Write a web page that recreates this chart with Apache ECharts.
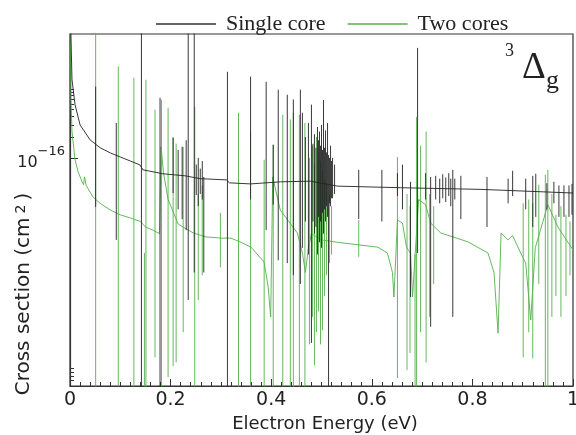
<!DOCTYPE html>
<html>
<head>
<meta charset="utf-8">
<script src="https://cdn.jsdelivr.net/npm/echarts@6/dist/echarts.min.js"></script>
<style>html,body{margin:0;padding:0;background:#fff}#c{width:576px;height:435px}</style>
</head>
<body>
<div id="c"></div>
<script>
// ---- data ----
const seriesNames = ['Single core', 'Two cores'];
const xTickLabels = ['0', '0.2', '0.4', '0.6', '0.8', '1'];
const yMajorTicks = [1e-16];
const yMinorTicks = [5e-20, 6e-20, 7e-20, 8e-20, 9e-20, 2e-16, 3e-16, 4e-16, 5e-16, 6e-16, 7e-16, 8e-16, 9e-16, 1e-15];

// smooth background of the single-core cross section [energy, value]
const blackCurve = [
 [0.001, 1e-14], [0.004, 1.35e-15], [0.010, 5.9e-16], [0.020, 3.0e-16], [0.040, 1.82e-16],
 [0.060, 1.4e-16], [0.080, 1.18e-16], [0.100, 1.03e-16], [0.120, 9.0e-17], [0.139, 7.9e-17],
 [0.145, 6.7e-17], [0.175, 6.1e-17], [0.183, 5.9e-17], [0.229, 5.5e-17], [0.259, 5.0e-17],
 [0.311, 4.8e-17], [0.317, 4.35e-17], [0.359, 4.2e-17], [0.418, 4.5e-17], [0.478, 4.6e-17],
 [0.532, 3.9e-17], [0.657, 3.7e-17], [0.817, 3.5e-17], [1.0, 3.1e-17]
];
// resonance spikes of the single-core curve [energy, low, high]
const blackSpikes = [
 [0.051, 1.95e-17, 1.07e-15], [0.092, 6.5e-18, 3.2e-16], [0.142, 1e-20, 1e-14], [0.179, 1e-20, 7.4e-16],
 [0.205, 3.1e-17, 1.95e-16], [0.215, 1.8e-17, 1.3e-16], [0.223, 1.3e-17, 1.45e-16], [0.231, 9e-18, 1.8e-16],
 [0.235, 8.8e-19, 1e-14], [0.247, 2.2e-18, 1e-14], [0.251, 2.9e-17, 8.0e-17], [0.255, 2.0e-17, 1.0e-16],
 [0.259, 3.0e-17, 7.0e-17], [0.263, 2.5e-17, 9.0e-17], [0.266, 2.2e-18, 5.3e-17], [0.313, 1e-20, 1.76e-15],
 [0.359, 2.5e-17, 1.5e-15], [0.390, 9e-18, 1.26e-15], [0.404, 2.1e-17, 1.55e-16], [0.414, 3.3e-18, 9.7e-16],
 [0.432, 3.0e-18, 8.2e-16], [0.444, 2.0e-18, 7.0e-16], [0.458, 1.5e-18, 9.7e-16], [0.462, 5.0e-18, 4.5e-16],
 [0.468, 1.2e-17, 2.0e-16], [0.474, 4.0e-18, 3.2e-16], [0.480, 2.1e-19, 5.9e-16], [0.483, 1.2e-17, 1.6e-16],
 [0.486, 8e-18, 2.2e-16], [0.489, 1.0e-17, 1.4e-16], [0.492, 4.0e-18, 2.8e-16], [0.494, 1.4e-17, 1.8e-16],
 [0.496, 6.0e-18, 2.4e-16], [0.498, 1.2e-17, 1.5e-16], [0.500, 5.0e-18, 3.0e-16], [0.502, 1.6e-17, 1.3e-16],
 [0.504, 8.0e-18, 6.9e-16], [0.506, 1.8e-17, 1.4e-16], [0.508, 1.2e-17, 2.5e-16], [0.510, 2.0e-17, 1.2e-16],
 [0.512, 1.4e-17, 3.2e-16], [0.514, 1e-20, 1.1e-16], [0.516, 2.2e-17, 1.0e-16], [0.518, 2.0e-17, 1.5e-16],
 [0.520, 2.6e-17, 9e-17], [0.522, 2.6e-17, 1.0e-16], [0.526, 3.0e-17, 8.0e-17], [0.574, 1.3e-17, 6.7e-17],
 [0.620, 1.2e-17, 6.7e-17], [0.651, 2.8e-17, 6.0e-17], [0.661, 1.8e-17, 8.0e-17], [0.677, 9.7e-19, 4.5e-17],
 [0.691, 4.2e-18, 3.9e-15], [0.707, 2.5e-17, 6.0e-17], [0.717, 3.6e-19, 5.3e-17], [0.727, 2.5e-17, 5.5e-17],
 [0.735, 2.2e-17, 5.0e-17], [0.741, 2.6e-17, 5.8e-17], [0.747, 2.3e-17, 5.2e-17], [0.753, 2.8e-17, 6.0e-17],
 [0.757, 2.0e-17, 5.0e-17], [0.761, 5.0e-19, 6.7e-17], [0.765, 2.5e-17, 5.0e-17], [0.777, 1.3e-17, 5.5e-17],
 [0.829, 1.0e-17, 5.3e-17], [0.871, 2.2e-17, 5.0e-17], [0.880, 2.8e-17, 6.5e-17], [0.906, 1.8e-17, 5.0e-17],
 [0.920, 1.0e-17, 5.5e-17], [0.926, 1.4e-17, 5.9e-17], [0.948, 1.8e-17, 4.3e-17], [0.962, 2.2e-17, 4.5e-17],
 [0.972, 1.4e-17, 4.0e-17], [0.982, 1.4e-17, 4.0e-17], [0.992, 1.4e-17, 4.0e-17], [0.998, 1.5e-17, 4.2e-17]
];

// smooth background of the two-core cross section [energy, value]
const greenCurve = [
 [0.0005, 1e-14], [0.002, 6.9e-16], [0.004, 2.4e-16], [0.010, 9.4e-17], [0.016, 6.3e-17], [0.024, 4.5e-17],
 [0.027, 4.1e-17], [0.029, 5.3e-17], [0.032, 4.0e-17], [0.046, 2.7e-17], [0.060, 2.2e-17], [0.080, 1.76e-17],
 [0.100, 1.5e-17], [0.120, 1.35e-17], [0.140, 1.2e-17], [0.150, 1.0e-17], [0.165, 9.0e-18], [0.178, 8.0e-18],
 [0.181, 1.44e-16], [0.186, 6.0e-17], [0.195, 2.5e-17], [0.215, 1.1e-17], [0.245, 8.2e-18], [0.270, 7.2e-18],
 [0.300, 6.9e-18], [0.320, 6.9e-18], [0.340, 6.0e-18], [0.360, 5.1e-18], [0.386, 3.1e-18], [0.394, 1.35e-18],
 [0.399, 5.0e-19], [0.403, 5.3e-17], [0.418, 1.76e-17], [0.452, 8.2e-18], [0.462, 4.2e-18], [0.468, 2.2e-18],
 [0.474, 5.0e-18], [0.480, 8.0e-18], [0.500, 6.5e-18], [0.532, 6.0e-18], [0.612, 5.1e-18], [0.631, 4.2e-18],
 [0.641, 2.2e-18], [0.644, 9.7e-19], [0.651, 1.26e-17], [0.661, 1.14e-17], [0.669, 5.1e-18], [0.677, 4.2e-18],
 [0.681, 9.7e-19], [0.693, 2.5e-17], [0.707, 2.1e-17], [0.717, 1.14e-17], [0.737, 8.2e-18], [0.791, 6.1e-18],
 [0.831, 4.2e-18], [0.843, 2.2e-18], [0.851, 2.9e-19], [0.857, 8.2e-18], [0.871, 6.5e-18], [0.880, 7.5e-18],
 [0.896, 4.2e-18], [0.906, 3.0e-18], [0.916, 4.5e-19], [0.925, 5.0e-18], [0.950, 2.1e-17], [0.970, 1.0e-17],
 [1.0, 4.65e-18]
];
// resonance spikes of the two-core curve [energy, low, high]
const greenSpikes = [
 [0.051, 1e-20, 1e-14], [0.096, 1e-20, 2.1e-15], [0.127, 1e-20, 1.44e-15], [0.148, 1e-20, 4.2e-18],
 [0.151, 1e-20, 1.35e-15], [0.169, 1.3e-19, 5.0e-16], [0.182, 1e-20, 6.9e-16], [0.195, 6.7e-20, 5.3e-16],
 [0.205, 9.7e-20, 2.0e-16], [0.211, 1.1e-19, 1.6e-16], [0.225, 3.0e-19, 1.44e-16], [0.248, 1e-20, 5.5e-16],
 [0.255, 8.8e-19, 3.0e-17], [0.263, 2.0e-18, 4.0e-17], [0.299, 2.6e-18, 1.6e-17], [0.335, 1e-20, 4.5e-16],
 [0.359, 1e-20, 2.4e-16], [0.386, 1e-20, 9.4e-17], [0.404, 1e-20, 1.55e-16], [0.423, 1e-20, 4.2e-16],
 [0.438, 1e-20, 3.6e-16], [0.444, 1e-20, 4.5e-16], [0.456, 1e-20, 4.2e-16], [0.467, 1e-20, 3.2e-16],
 [0.476, 2.0e-19, 1.0e-16], [0.482, 5.0e-19, 1.5e-16], [0.486, 1.0e-19, 8.0e-17], [0.490, 3.0e-19, 2.0e-16],
 [0.494, 6.0e-19, 1.2e-16], [0.498, 2.0e-19, 9.0e-17], [0.502, 3.2e-19, 6.7e-17], [0.506, 1.0e-18, 5.0e-17],
 [0.510, 2.0e-18, 4.0e-17], [0.516, 3.0e-18, 3.0e-17], [0.520, 4.0e-18, 2.0e-17], [0.574, 3.7e-18, 1.26e-17],
 [0.651, 6.5e-20, 1.03e-16], [0.670, 8.5e-20, 3.0e-17], [0.676, 1.5e-19, 2.0e-17], [0.686, 1e-20, 4.0e-18],
 [0.689, 1e-20, 3.9e-16], [0.697, 3.0e-19, 1.5e-16], [0.708, 1.1e-19, 2.4e-16], [0.715, 5.0e-19, 3.0e-17],
 [0.723, 1.5e-18, 2.0e-17], [0.901, 1.3e-19, 2.2e-17], [0.912, 3.0e-19, 2.5e-17], [0.920, 1.26e-19, 2.2e-17],
 [0.932, 1.5e-18, 4.1e-17], [0.945, 1e-20, 5.7e-17], [0.950, 1e-20, 6.7e-17], [0.958, 5.0e-19, 3.0e-17],
 [0.966, 1.0e-18, 1.5e-17], [0.976, 5.0e-19, 2.0e-17], [0.986, 1.0e-18, 1.5e-17], [0.994, 2.0e-18, 1.2e-17]
];

const yMin = 5e-20, yMax = 6.2e-15;

// ---- build series data: smooth curve, then vertical spike segments separated by gaps ----
function buildData(curve, spikes) {
  const d = curve.map(p => [p[0], p[1]]);
  spikes.forEach(s => {
    d.push([s[0], '-']);
    d.push([s[0], s[1]]);
    d.push([s[0], s[2]]);
  });
  return d;
}

const chart = echarts.init(document.getElementById('c'), null, {renderer: 'canvas'});
const axisColor = '#333';
const txt = '#222';
const option = {
  animation: false,
  backgroundColor: '#fff',
  grid: {left: 70, right: 3, top: 34, bottom: 49, show: true, borderColor: axisColor, borderWidth: 1.2,
         backgroundColor: 'transparent', containLabel: false, outerBoundsMode: 'none'},
  legend: {
    data: seriesNames, left: 151, top: 8, icon: 'rect', itemWidth: 60, itemHeight: 1.5, itemGap: 22,
    textStyle: {fontFamily: 'Liberation Serif', fontSize: 22, color: txt, padding: [0, 0, 0, 5]}
  },
  xAxis: {
    type: 'value', min: 0, max: 1, interval: 0.2,
    axisLine: {lineStyle: {color: axisColor, width: 1.2}},
    axisTick: {inside: true, length: 7, lineStyle: {color: axisColor}},
    minorTick: {show: true, splitNumber: 10, length: 4, lineStyle: {color: axisColor}},
    splitLine: {show: false},
    axisLabel: {
      fontFamily: 'DejaVu Sans', fontSize: 19, color: txt, margin: 5,
      formatter: v => xTickLabels[Math.round(v * 5)]
    }
  },
  yAxis: [
    {
      type: 'log', logBase: 10, min: yMin, max: yMax,
      axisLine: {lineStyle: {color: axisColor, width: 1.2}},
      axisTick: {inside: true, length: 8, customValues: yMajorTicks, lineStyle: {color: axisColor}},
      splitLine: {show: false},
      axisLabel: {
        customValues: yMajorTicks, margin: 5,
        formatter: () => '{b|10}{s|\u221216}',
        rich: {
          b: {fontFamily: 'DejaVu Sans', fontSize: 16, color: txt, lineHeight: 26, verticalAlign: 'bottom'},
          s: {fontFamily: 'DejaVu Sans', fontSize: 13, color: txt, lineHeight: 15, verticalAlign: 'top'}
        }
      }
    },
    {
      type: 'log', logBase: 10, min: yMin, max: yMax, position: 'left',
      axisLine: {show: false},
      axisTick: {inside: true, length: 4, customValues: yMinorTicks, lineStyle: {color: axisColor}},
      axisLabel: {show: false},
      splitLine: {show: false}
    }
  ],
  series: [
    {
      name: 'Two cores', type: 'line', yAxisIndex: 0, symbol: 'none', connectNulls: false,
      data: buildData(greenCurve, greenSpikes),
      lineStyle: {color: '#55b04c', width: 0.9}, itemStyle: {color: '#55b04c'}, z: 2
    },
    {
      name: 'Single core', type: 'line', yAxisIndex: 0, symbol: 'none', connectNulls: false,
      data: buildData(blackCurve, blackSpikes),
      lineStyle: {color: '#222', width: 0.9}, itemStyle: {color: '#333'}, z: 3
    }
  ],
  graphic: [
    {
      type: 'text', x: 24, y: 294, rotation: Math.PI / 2,
      style: {
        text: 'Cross section (cm{s|2})', fontFamily: 'DejaVu Sans', fontSize: 20, fill: txt,
        align: 'center', verticalAlign: 'middle',
        rich: {s: {fontFamily: 'DejaVu Sans', fontSize: 14, fill: txt, verticalAlign: 'top', lineHeight: 14, padding: [0, 4, 6, 4]}}
      }
    },
    {
      type: 'text', x: 325, y: 424,
      style: {text: 'Electron Energy (eV)', fontFamily: 'DejaVu Sans', fontSize: 18, fill: txt, align: 'center', verticalAlign: 'middle'}
    },
    {type: 'text', x: 505, y: 42, style: {text: '3', fontFamily: 'Liberation Serif', fontSize: 18, fill: txt, verticalAlign: 'top'}},
    {type: 'text', x: 522, y: 50, style: {text: '\u0394', fontFamily: 'Liberation Serif', fontSize: 37, fill: txt, verticalAlign: 'top'}},
    {type: 'text', x: 546, y: 68, style: {text: 'g', fontFamily: 'Liberation Serif', fontSize: 26, fill: txt, verticalAlign: 'top'}}
  ]
};
chart.setOption(option);
</script>
</body>
</html>
